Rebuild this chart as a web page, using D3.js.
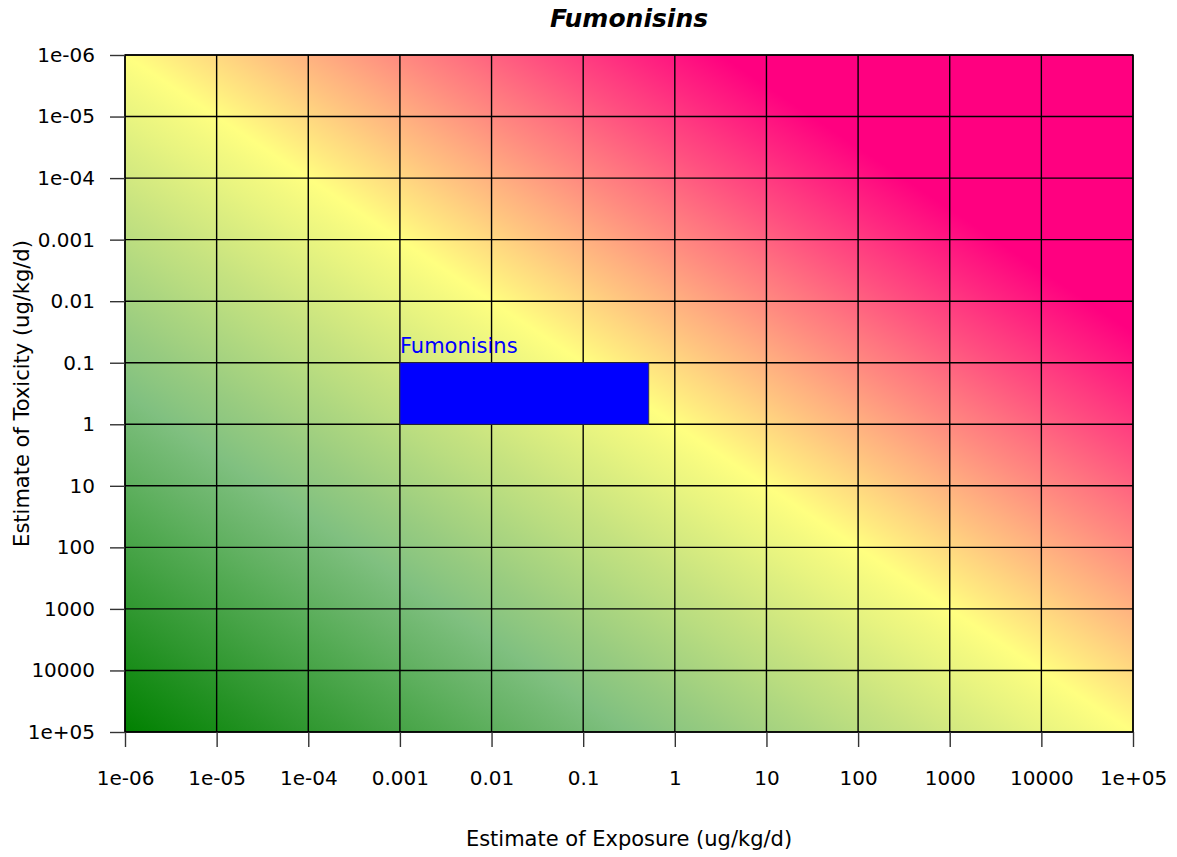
<!DOCTYPE html>
<html>
<head>
<meta charset="utf-8">
<script src="https://cdn.jsdelivr.net/npm/d3@7"></script>
<style>
  body { margin: 0; background: #fff; }
  text { font-family: "DejaVu Sans", sans-serif; }
</style>
</head>
<body>
<svg id="canvas" width="1177" height="857"></svg>
<script>
// data
var decades = [1e-6, 1e-5, 1e-4, 1e-3, 1e-2, 1e-1, 1, 10, 100, 1000, 10000, 1e5];
var xTickLabels = ['1e-06', '1e-05', '1e-04', '0.001', '0.01', '0.1', '1', '10', '100', '1000', '10000', '1e+05'];
var yTickLabels = ['1e-06', '1e-05', '1e-04', '0.001', '0.01', '0.1', '1', '10', '100', '1000', '10000', '1e+05'];
var substances = ['Fumonisins'];
var exposureLow = [0.001];
var exposureHigh = [0.52];
var toxicityLow = [0.1];
var toxicityHigh = [1];
// background colour by log10(exposure) - log10(toxicity)
var riskStops = [-11, -5.5, 0, 6.5];
var riskColours = ['#008000', '#80c080', '#ffff80', '#ff0080'];

var svg = d3.select('#canvas');
var pLeft = 125, pRight = 1133, pTop = 55, pBottom = 732;

var x = d3.scaleLog().domain([1e-6, 1e5]).range([pLeft, pRight]);
var y = d3.scaleLog().domain([1e-6, 1e5]).range([pTop, pBottom]);
var colour = d3.scaleLinear().domain(riskStops).range(riskColours).clamp(true);

// ************************************************************************************** //
// Background gradient, perpendicular to lines of constant log(x) - log(y)

var kx = (pRight - pLeft) / 11, ky = (pBottom - pTop) / 11;
var s = 22 / (1 / (kx * kx) + 1 / (ky * ky));
var x1 = x(1e-6), y1 = y(1e5);
var x2 = x1 + s / kx, y2 = y1 - s / ky;

var grad = svg.append('defs').append('linearGradient')
  .attr('id', 'riskGrad')
  .attr('gradientUnits', 'userSpaceOnUse')
  .attr('x1', x1).attr('y1', y1).attr('x2', x2).attr('y2', y2);

d3.range(0, 45).forEach(function(i){
  var d = -11 + 22 * i / 44;
  grad.append('stop').attr('offset', (d + 11) / 22).attr('stop-color', colour(d));
});

svg.append('rect')
  .attr('x', pLeft).attr('y', pTop)
  .attr('width', pRight - pLeft).attr('height', pBottom - pTop)
  .attr('fill', 'url(#riskGrad)');

// ************************************************************************************** //
// Grid

svg.append('g').selectAll('line').data(decades).enter().append('line')
  .attr('x1', d => x(d)).attr('x2', d => x(d))
  .attr('y1', pTop).attr('y2', pBottom)
  .attr('stroke', '#000').attr('stroke-width', 1.4);

svg.append('g').selectAll('line').data(decades).enter().append('line')
  .attr('y1', d => y(d)).attr('y2', d => y(d))
  .attr('x1', pLeft).attr('x2', pRight)
  .attr('stroke', '#000').attr('stroke-width', 1.4);

// ************************************************************************************** //
// Substance boxes

substances.forEach(function(name, i){
  svg.append('rect')
    .attr('x', x(exposureLow[i])).attr('y', y(toxicityLow[i]))
    .attr('width', x(exposureHigh[i]) - x(exposureLow[i]))
    .attr('height', y(toxicityHigh[i]) - y(toxicityLow[i]))
    .attr('fill', '#0000ff').attr('stroke', '#333').attr('stroke-width', 0.8);
  svg.append('text')
    .attr('x', x(exposureLow[i])).attr('y', y(toxicityLow[i]) - 10)
    .attr('fill', '#0000ff').attr('font-size', '21px')
    .text(name);
});

svg.append('rect')
  .attr('x', pLeft).attr('y', pTop)
  .attr('width', pRight - pLeft).attr('height', pBottom - pTop)
  .attr('fill', 'none').attr('stroke', '#000').attr('stroke-width', 1.4);

// ************************************************************************************** //
// Axes

var xAxis = d3.axisBottom(x).tickValues(decades).tickSize(15).tickPadding(24)
  .tickFormat((d, i) => xTickLabels[i]);
var gx = svg.append('g').attr('transform', 'translate(0,' + pBottom + ')').call(xAxis);
gx.select('.domain').remove();
gx.selectAll('.tick line').attr('stroke', '#333').attr('stroke-width', 1.4);
gx.selectAll('.tick text').attr('font-size', '20px').attr('font-family', 'DejaVu Sans').attr('fill', '#000');

var yAxis = d3.axisLeft(y).tickValues(decades).tickSize(15).tickPadding(15)
  .tickFormat((d, i) => yTickLabels[i]);
var gy = svg.append('g').attr('transform', 'translate(' + pLeft + ',0)').call(yAxis);
gy.select('.domain').remove();
gy.selectAll('.tick line').attr('stroke', '#333').attr('stroke-width', 1.4);
gy.selectAll('.tick text').attr('font-size', '20px').attr('font-family', 'DejaVu Sans').attr('fill', '#000');

// ************************************************************************************** //
// Titles

svg.append('text')
  .attr('x', (pLeft + pRight) / 2).attr('y', 27)
  .attr('text-anchor', 'middle')
  .attr('font-size', '25px').attr('font-weight', 'bold').attr('font-style', 'italic')
  .text('Fumonisins');

svg.append('text')
  .attr('x', (pLeft + pRight) / 2).attr('y', 846)
  .attr('text-anchor', 'middle').attr('font-size', '21px')
  .text('Estimate of Exposure (ug/kg/d)');

svg.append('text')
  .attr('transform', 'translate(29,' + (pTop + pBottom) / 2 + ') rotate(-90)')
  .attr('text-anchor', 'middle').attr('font-size', '21px')
  .text('Estimate of Toxicity (ug/kg/d)');
</script>
</body>
</html>
